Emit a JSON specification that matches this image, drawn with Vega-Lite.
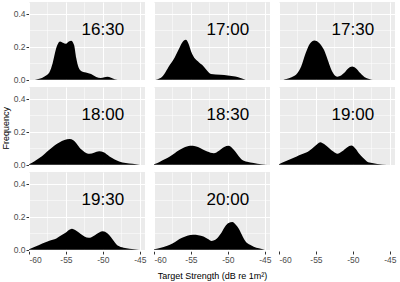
{
  "$schema": "https://vega.github.io/schema/vega-lite/v6.json",
  "padding": {"left": 2, "top": 2, "right": 1, "bottom": 2},
  "title": {"text": "Frequency", "orient": "left", "anchor": "middle", "fontSize": 9, "fontWeight": "normal", "color": "black", "offset": 2, "dx": 13},
  "data": {"values": [
    {"time":"16:30","ts":-59.2,"f":0},{"time":"16:30","ts":-58.6,"f":0.005},{"time":"16:30","ts":-57.9,"f":0.02},{"time":"16:30","ts":-57.25,"f":0.044},{"time":"16:30","ts":-56.8,"f":0.1},{"time":"16:30","ts":-56.35,"f":0.186},{"time":"16:30","ts":-55.8,"f":0.232},{"time":"16:30","ts":-55.4,"f":0.224},{"time":"16:30","ts":-55.0,"f":0.218},{"time":"16:30","ts":-54.6,"f":0.232},{"time":"16:30","ts":-54.3,"f":0.236},{"time":"16:30","ts":-53.9,"f":0.21},{"time":"16:30","ts":-53.6,"f":0.13},{"time":"16:30","ts":-53.3,"f":0.075},{"time":"16:30","ts":-53.0,"f":0.055},{"time":"16:30","ts":-52.3,"f":0.044},{"time":"16:30","ts":-51.6,"f":0.034},{"time":"16:30","ts":-50.9,"f":0.016},{"time":"16:30","ts":-50.3,"f":0.01},{"time":"16:30","ts":-49.8,"f":0.015},{"time":"16:30","ts":-49.4,"f":0.018},{"time":"16:30","ts":-48.9,"f":0.012},{"time":"16:30","ts":-48.4,"f":0.003},{"time":"16:30","ts":-48.0,"f":0},
    {"time":"17:00","ts":-59.8,"f":0},{"time":"17:00","ts":-59.2,"f":0.008},{"time":"17:00","ts":-58.6,"f":0.035},{"time":"17:00","ts":-58.0,"f":0.08},{"time":"17:00","ts":-57.2,"f":0.135},{"time":"17:00","ts":-56.7,"f":0.18},{"time":"17:00","ts":-56.2,"f":0.225},{"time":"17:00","ts":-55.7,"f":0.242},{"time":"17:00","ts":-55.3,"f":0.215},{"time":"17:00","ts":-55.0,"f":0.175},{"time":"17:00","ts":-54.4,"f":0.125},{"time":"17:00","ts":-53.9,"f":0.105},{"time":"17:00","ts":-53.5,"f":0.09},{"time":"17:00","ts":-53.0,"f":0.065},{"time":"17:00","ts":-52.3,"f":0.035},{"time":"17:00","ts":-51.0,"f":0.03},{"time":"17:00","ts":-50.0,"f":0.026},{"time":"17:00","ts":-49.0,"f":0.02},{"time":"17:00","ts":-48.4,"f":0.012},{"time":"17:00","ts":-47.6,"f":0},
    {"time":"17:30","ts":-59.4,"f":0},{"time":"17:30","ts":-59.0,"f":0.004},{"time":"17:30","ts":-58.3,"f":0.015},{"time":"17:30","ts":-57.5,"f":0.04},{"time":"17:30","ts":-57.0,"f":0.08},{"time":"17:30","ts":-56.4,"f":0.16},{"time":"17:30","ts":-55.8,"f":0.22},{"time":"17:30","ts":-55.2,"f":0.238},{"time":"17:30","ts":-54.6,"f":0.225},{"time":"17:30","ts":-53.9,"f":0.18},{"time":"17:30","ts":-53.4,"f":0.12},{"time":"17:30","ts":-53.0,"f":0.07},{"time":"17:30","ts":-52.6,"f":0.035},{"time":"17:30","ts":-52.1,"f":0.018},{"time":"17:30","ts":-51.6,"f":0.025},{"time":"17:30","ts":-51.2,"f":0.04},{"time":"17:30","ts":-50.6,"f":0.07},{"time":"17:30","ts":-50.1,"f":0.08},{"time":"17:30","ts":-49.6,"f":0.07},{"time":"17:30","ts":-49.0,"f":0.04},{"time":"17:30","ts":-48.4,"f":0.015},{"time":"17:30","ts":-47.8,"f":0.004},{"time":"17:30","ts":-47.3,"f":0},
    {"time":"18:00","ts":-60.0,"f":0.003},{"time":"18:00","ts":-59.3,"f":0.02},{"time":"18:00","ts":-58.6,"f":0.04},{"time":"18:00","ts":-57.9,"f":0.065},{"time":"18:00","ts":-57.25,"f":0.09},{"time":"18:00","ts":-56.5,"f":0.118},{"time":"18:00","ts":-55.9,"f":0.135},{"time":"18:00","ts":-55.2,"f":0.15},{"time":"18:00","ts":-54.5,"f":0.156},{"time":"18:00","ts":-54.0,"f":0.148},{"time":"18:00","ts":-53.6,"f":0.13},{"time":"18:00","ts":-53.1,"f":0.1},{"time":"18:00","ts":-52.7,"f":0.085},{"time":"18:00","ts":-52.2,"f":0.07},{"time":"18:00","ts":-51.8,"f":0.066},{"time":"18:00","ts":-51.2,"f":0.072},{"time":"18:00","ts":-50.5,"f":0.081},{"time":"18:00","ts":-49.9,"f":0.075},{"time":"18:00","ts":-49.1,"f":0.05},{"time":"18:00","ts":-48.4,"f":0.032},{"time":"18:00","ts":-47.8,"f":0.02},{"time":"18:00","ts":-46.9,"f":0.01},{"time":"18:00","ts":-46.0,"f":0.005},{"time":"18:00","ts":-45.0,"f":0},
    {"time":"18:30","ts":-60.0,"f":0.002},{"time":"18:30","ts":-59.6,"f":0.008},{"time":"18:30","ts":-58.9,"f":0.025},{"time":"18:30","ts":-58.2,"f":0.04},{"time":"18:30","ts":-57.5,"f":0.06},{"time":"18:30","ts":-56.9,"f":0.08},{"time":"18:30","ts":-56.0,"f":0.103},{"time":"18:30","ts":-55.1,"f":0.115},{"time":"18:30","ts":-54.4,"f":0.112},{"time":"18:30","ts":-53.7,"f":0.1},{"time":"18:30","ts":-52.8,"f":0.08},{"time":"18:30","ts":-51.9,"f":0.07},{"time":"18:30","ts":-51.2,"f":0.085},{"time":"18:30","ts":-50.5,"f":0.108},{"time":"18:30","ts":-49.9,"f":0.115},{"time":"18:30","ts":-49.4,"f":0.1},{"time":"18:30","ts":-49.0,"f":0.08},{"time":"18:30","ts":-48.5,"f":0.05},{"time":"18:30","ts":-48.1,"f":0.03},{"time":"18:30","ts":-47.4,"f":0.018},{"time":"18:30","ts":-46.5,"f":0.01},{"time":"18:30","ts":-45.5,"f":0.003},{"time":"18:30","ts":-44.7,"f":0},
    {"time":"19:00","ts":-60.0,"f":0.003},{"time":"19:00","ts":-59.2,"f":0.02},{"time":"19:00","ts":-58.4,"f":0.034},{"time":"19:00","ts":-57.6,"f":0.05},{"time":"19:00","ts":-57.1,"f":0.06},{"time":"19:00","ts":-56.4,"f":0.072},{"time":"19:00","ts":-55.9,"f":0.085},{"time":"19:00","ts":-55.2,"f":0.11},{"time":"19:00","ts":-54.4,"f":0.137},{"time":"19:00","ts":-53.9,"f":0.125},{"time":"19:00","ts":-53.2,"f":0.1},{"time":"19:00","ts":-52.6,"f":0.078},{"time":"19:00","ts":-52.1,"f":0.066},{"time":"19:00","ts":-51.5,"f":0.08},{"time":"19:00","ts":-50.8,"f":0.105},{"time":"19:00","ts":-50.2,"f":0.116},{"time":"19:00","ts":-49.7,"f":0.1},{"time":"19:00","ts":-49.2,"f":0.07},{"time":"19:00","ts":-48.6,"f":0.04},{"time":"19:00","ts":-48.1,"f":0.02},{"time":"19:00","ts":-47.4,"f":0.01},{"time":"19:00","ts":-46.7,"f":0.004},{"time":"19:00","ts":-45.4,"f":0},
    {"time":"19:30","ts":-60.0,"f":0.003},{"time":"19:30","ts":-59.2,"f":0.018},{"time":"19:30","ts":-58.2,"f":0.038},{"time":"19:30","ts":-57.5,"f":0.05},{"time":"19:30","ts":-56.8,"f":0.06},{"time":"19:30","ts":-56.3,"f":0.068},{"time":"19:30","ts":-55.9,"f":0.08},{"time":"19:30","ts":-55.0,"f":0.105},{"time":"19:30","ts":-54.2,"f":0.127},{"time":"19:30","ts":-53.6,"f":0.115},{"time":"19:30","ts":-53.0,"f":0.095},{"time":"19:30","ts":-52.5,"f":0.08},{"time":"19:30","ts":-51.9,"f":0.072},{"time":"19:30","ts":-51.2,"f":0.085},{"time":"19:30","ts":-50.5,"f":0.105},{"time":"19:30","ts":-50.0,"f":0.112},{"time":"19:30","ts":-49.4,"f":0.1},{"time":"19:30","ts":-48.9,"f":0.075},{"time":"19:30","ts":-48.4,"f":0.045},{"time":"19:30","ts":-48.0,"f":0.025},{"time":"19:30","ts":-47.2,"f":0.012},{"time":"19:30","ts":-46.4,"f":0.006},{"time":"19:30","ts":-45.1,"f":0},
    {"time":"20:00","ts":-60.0,"f":0.002},{"time":"20:00","ts":-59.2,"f":0.01},{"time":"20:00","ts":-58.2,"f":0.024},{"time":"20:00","ts":-57.5,"f":0.038},{"time":"20:00","ts":-56.9,"f":0.055},{"time":"20:00","ts":-56.2,"f":0.072},{"time":"20:00","ts":-55.5,"f":0.085},{"time":"20:00","ts":-54.7,"f":0.09},{"time":"20:00","ts":-54.0,"f":0.088},{"time":"20:00","ts":-53.3,"f":0.08},{"time":"20:00","ts":-52.7,"f":0.065},{"time":"20:00","ts":-52.2,"f":0.053},{"time":"20:00","ts":-51.7,"f":0.06},{"time":"20:00","ts":-51.0,"f":0.095},{"time":"20:00","ts":-50.4,"f":0.14},{"time":"20:00","ts":-49.9,"f":0.162},{"time":"20:00","ts":-49.4,"f":0.168},{"time":"20:00","ts":-48.9,"f":0.15},{"time":"20:00","ts":-48.5,"f":0.125},{"time":"20:00","ts":-48.0,"f":0.08},{"time":"20:00","ts":-47.6,"f":0.05},{"time":"20:00","ts":-47.0,"f":0.03},{"time":"20:00","ts":-46.5,"f":0.018},{"time":"20:00","ts":-45.8,"f":0.008},{"time":"20:00","ts":-45.0,"f":0}
  ]},
  "vconcat": [
    {
      "title": {"text": "Target Strength (dB re 1m²)", "orient": "bottom", "anchor": "middle", "fontSize": 9, "fontWeight": "normal", "color": "black", "offset": 8, "dx": 8},
      "facet": {"field": "time", "type": "ordinal", "header": null},
      "columns": 3,
      "spacing": {"row": 6, "column": 9},
      "spec": {
        "width": 116,
        "height": 79,
        "layer": [
          {
            "mark": {"type": "area", "interpolate": "monotone", "color": "black"},
            "encoding": {
              "x": {"field": "ts", "type": "quantitative", "title": null,
                "scale": {"domain": [-60, -44.3], "nice": false, "zero": false},
                "axis": {"values": [-60, -55, -50, -45], "labelExpr": "'' + datum.value", "labelOverlap": false, "gridWidth": 1}},
              "y": {"field": "f", "type": "quantitative", "title": null,
                "scale": {"domain": [-0.008, 0.472], "nice": false, "zero": false},
                "axis": {"values": [0, 0.2, 0.4], "format": ".1f", "labelOverlap": false, "gridWidth": 1}}
            }
          },
          {
            "transform": [{"aggregate": [{"op": "count", "as": "n"}], "groupby": ["time"]}],
            "mark": {"type": "text", "fontSize": 17, "font": "Liberation Sans", "align": "center", "baseline": "middle", "color": "black"},
            "encoding": {
              "x": {"datum": -50, "type": "quantitative", "title": null,
                "axis": {"orient": "top", "values": [-57.5, -52.5, -47.5], "labels": false, "ticks": false, "domain": false, "grid": true, "gridWidth": 0.5}},
              "y": {"datum": 0.3, "type": "quantitative", "title": null,
                "axis": {"orient": "right", "values": [0.1, 0.3], "labels": false, "ticks": false, "domain": false, "grid": true, "gridWidth": 0.5}},
              "text": {"field": "time", "type": "nominal"}
            }
          }
        ],
        "resolve": {"axis": {"x": "independent", "y": "independent"}}
      }
    }
  ],
  "config": {
    "font": "Liberation Sans",
    "view": {"fill": "#EBEBEB", "stroke": null},
    "header": {"labels": false, "title": null, "labelFontSize": 0, "labelPadding": 0},
    "axis": {
      "domain": false,
      "labelFontSize": 8.5,
      "labelColor": "#4D4D4D",
      "labelPadding": 1,
      "labelOverlap": false,
      "tickColor": "#333333",
      "tickSize": 3,
      "titleFontSize": 9,
      "titleFontWeight": "normal",
      "titleColor": "black",
      "gridColor": "white"
    }
  }
}
